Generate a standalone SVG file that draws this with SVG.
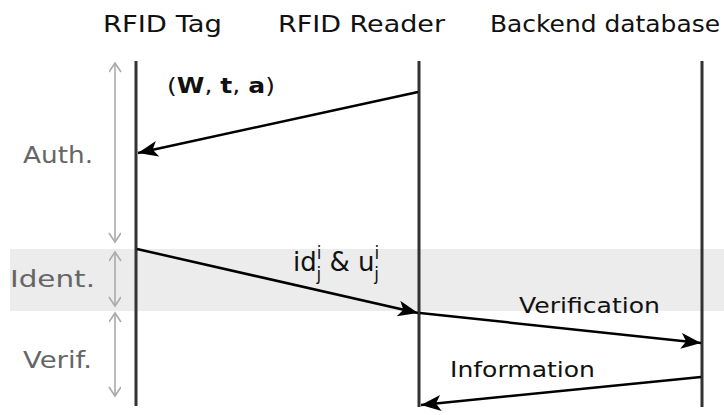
<svg xmlns="http://www.w3.org/2000/svg" width="724" height="415" viewBox="0 0 724 415">
<style>
.title{font-family:"DejaVu Sans",sans-serif;font-size:23px;fill:#111}
.phase{font-family:"DejaVu Sans",sans-serif;font-size:23px;fill:#666}
.lbl{font-family:"DejaVu Sans",sans-serif;font-size:22px;fill:#111}
.big{font-size:26px}
.sub{font-size:17px}
.life{stroke:#333;stroke-width:3;fill:none}
.msg{stroke:#000;stroke-width:2.5;fill:none;marker-end:url(#ah)}
.span{stroke:#aaa;stroke-width:1.6;fill:none;marker-start:url(#gh);marker-end:url(#gh)}
</style>
<defs>
<marker id="ah" markerUnits="userSpaceOnUse" markerWidth="22" markerHeight="18" refX="20" refY="8" orient="auto">
<path d="M0,0 L20,8 L0,16 L5,8 z" fill="#000"/>
</marker>
<marker id="gh" markerUnits="userSpaceOnUse" markerWidth="12" markerHeight="14" refX="10" refY="6" orient="auto-start-reverse">
<path d="M1,0 L10,6 L1,12" fill="none" stroke="#aaa" stroke-width="1.6"/>
</marker>
</defs>
<rect id="ident-band" x="10" y="249" width="714" height="62" fill="#ececec"/>
<g id="tag">
<text class="title" x="103" y="32" textLength="119" lengthAdjust="spacingAndGlyphs">RFID Tag</text>
<line class="life" x1="136" y1="61" x2="136" y2="406"/>
</g>
<g id="reader">
<text class="title" x="278" y="32" textLength="167" lengthAdjust="spacingAndGlyphs">RFID Reader</text>
<line class="life" x1="419" y1="61" x2="419" y2="407"/>
</g>
<g id="backend">
<text class="title" x="490" y="32" textLength="230" lengthAdjust="spacingAndGlyphs">Backend database</text>
<line class="life" x1="702" y1="61" x2="702" y2="407"/>
</g>
<g id="phase-auth">
<line class="span" x1="115" y1="63" x2="115" y2="242"/>
<text class="phase" x="23" y="163" textLength="70" lengthAdjust="spacingAndGlyphs">Auth.</text>
</g>
<g id="phase-ident">
<line class="span" x1="115" y1="252" x2="115" y2="306"/>
<text class="phase" x="10" y="287" textLength="85" lengthAdjust="spacingAndGlyphs">Ident.</text>
</g>
<g id="phase-verif">
<line class="span" x1="115" y1="313" x2="115" y2="396"/>
<text class="phase" x="23" y="368" textLength="69" lengthAdjust="spacingAndGlyphs">Verif.</text>
</g>
<g id="connectors">
<line class="msg" x1="418" y1="92" x2="138" y2="153"/>
<line class="msg" x1="137" y1="249" x2="418" y2="313"/>
<line class="msg" x1="420" y1="313" x2="701" y2="343"/>
<line class="msg" x1="701" y1="377" x2="421" y2="405"/>
</g>
<g id="labels">
<text class="lbl" x="167" y="93" textLength="108" lengthAdjust="spacingAndGlyphs">(<tspan font-weight="bold">W</tspan>, <tspan font-weight="bold">t</tspan>, <tspan font-weight="bold">a</tspan>)</text>
<text class="lbl big" x="293" y="271">id<tspan class="sub" dy="-12">i</tspan><tspan class="sub" dx="-5" dy="21">j</tspan><tspan dy="-9"> &amp; u</tspan><tspan class="sub" dy="-12">i</tspan><tspan class="sub" dx="-5" dy="21">j</tspan></text>
<text class="lbl" x="519" y="313" textLength="141" lengthAdjust="spacingAndGlyphs">Verification</text>
<text class="lbl" x="450" y="377" textLength="145" lengthAdjust="spacingAndGlyphs">Information</text>
</g>
</svg>
